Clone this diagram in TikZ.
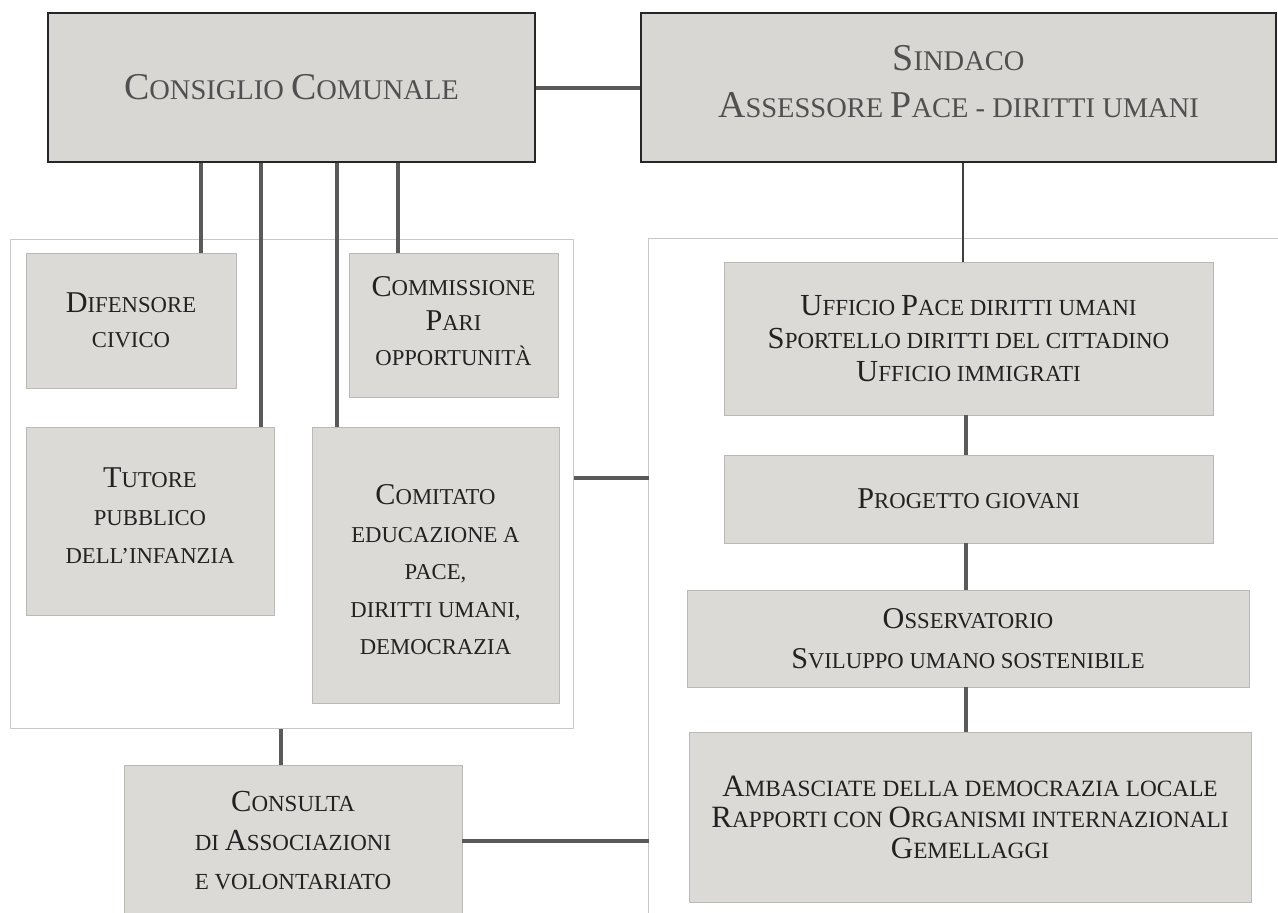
\documentclass[tikz,border=0pt]{standalone}
\usepackage{fontspec}
\usepackage{graphicx}
\setmainfont{Liberation Serif}
\newcommand\B[1]{\scalebox{1.33}{#1}}
\definecolor{boxfill}{HTML}{DCDAD6}
\definecolor{topfill}{HTML}{D9D7D3}
\definecolor{linecol}{HTML}{5A5A5A}
\definecolor{framecol}{HTML}{C8C8C8}
\definecolor{toptext}{HTML}{505050}
\definecolor{intext}{HTML}{222222}
\tikzset{
  topbox/.style={draw=black!85, line width=1.6pt, fill=topfill, inner sep=0pt, align=center,
    text=toptext, font=\fontsize{28.5}{47}\selectfont},
  inbox/.style={fill=boxfill, draw=boxfill!85!black, line width=0.5pt, inner sep=0pt, align=center,
    text=intext, font=\fontsize{22.7}{35}\selectfont},
  conn/.style={draw=linecol, line width=4pt},
  thinconn/.style={draw=black!75, line width=2.5pt},
  frame/.style={draw=framecol, line width=1pt}
}
\begin{document}
\begin{tikzpicture}[x=1pt,y=-1pt]
\useasboundingbox (0,0) rectangle (1278,913);
% containers
\node[frame, minimum width=563pt, minimum height=489pt, inner sep=0pt] (lc) at (291.5,483.5) {};
\node[minimum width=640pt, minimum height=690pt, inner sep=0pt] (rc) at (969,584) {};
\draw[frame] (rc.south west) -- (rc.north west) -- (rc.north east);
% top boxes
\node[topbox, minimum width=487pt, minimum height=149pt] (cc) at (291.5,87.5)
  {\B{C}ONSIGLIO \B{C}OMUNALE};
\node[topbox, minimum width=635pt, minimum height=149pt, text depth=12pt] (sind) at (958.5,87.5)
  {\B{S}INDACO\\ \B{A}SSESSORE \B{P}ACE - DIRITTI UMANI};
% left boxes
\node[inbox, minimum width=210pt, minimum height=135pt] (dif) at (131,320.5)
  {\B{D}IFENSORE\\CIVICO};
\node[inbox, minimum width=209pt, minimum height=144pt, text depth=8pt] (comm) at (453.5,325)
  {\B{C}OMMISSIONE\\\B{P}ARI\\OPPORTUNITÀ};
\node[inbox, minimum width=248pt, minimum height=188pt, text depth=10pt, font=\fontsize{22.7}{38}\selectfont] (tut) at (150,521)
  {\B{T}UTORE\\PUBBLICO\\DELL'INFANZIA};
\node[inbox, minimum width=247pt, minimum height=276pt, font=\fontsize{22.7}{37.5}\selectfont] (com) at (435.5,565)
  {\rule{0pt}{30pt}\B{C}OMITATO\\EDUCAZIONE A\\PACE,\\DIRITTI UMANI,\\DEMOCRAZIA};
\node[inbox, minimum width=338pt, minimum height=152pt, font=\fontsize{23}{39}\selectfont] (cons) at (293,841)
  {\B{C}ONSULTA\\DI \B{A}SSOCIAZIONI\\E VOLONTARIATO};
% right boxes
\node[inbox, minimum width=489pt, minimum height=153pt, font=\fontsize{23}{33}\selectfont] (uff) at (968.5,338.5)
  {\B{U}FFICIO \B{P}ACE DIRITTI UMANI\\\B{S}PORTELLO DIRITTI DEL CITTADINO\\\B{U}FFICIO IMMIGRATI};
\node[inbox, minimum width=489pt, minimum height=88pt] (prog) at (968.5,499)
  {\B{P}ROGETTO GIOVANI};
\node[inbox, minimum width=562pt, minimum height=97pt, font=\fontsize{22.7}{40}\selectfont] (oss) at (968,638.5)
  {\B{O}SSERVATORIO\\\B{S}VILUPPO UMANO SOSTENIBILE};
\node[inbox, minimum width=562pt, minimum height=170pt, font=\fontsize{23.3}{31}\selectfont] (amb) at (970,817)
  {\B{A}MBASCIATE DELLA DEMOCRAZIA LOCALE\\\B{R}APPORTI CON \B{O}RGANISMI INTERNAZIONALI\\\B{G}EMELLAGGI};
% connector guide coordinates
\coordinate (x1) at (201,0);
\coordinate (x2) at (261,0);
\coordinate (x3) at (337,0);
\coordinate (x4) at (398,0);
\coordinate (xs) at (963,0);
\coordinate (xr) at (966,0);
\coordinate (xc) at (281,0);
\coordinate (ymid) at (0,478);
% connectors
\draw[conn] (cc.east) -- (sind.west);
\draw[conn] (cc.south -| x1) -- (dif.north -| x1);
\draw[conn] (cc.south -| x2) -- (tut.north -| x2);
\draw[conn] (cc.south -| x3) -- (com.north -| x3);
\draw[conn] (cc.south -| x4) -- (comm.north -| x4);
\draw[thinconn] (sind.south -| xs) -- (uff.north -| xs);
\draw[conn] (uff.south -| xr) -- (prog.north -| xr);
\draw[conn] (prog.south -| xr) -- (oss.north -| xr);
\draw[conn] (oss.south -| xr) -- (amb.north -| xr);
\draw[conn] (lc.east |- ymid) -- (rc.west |- ymid);
\draw[conn] (lc.south -| xc) -- (cons.north -| xc);
\draw[conn] (cons.east) -- (cons.east -| rc.west);
\end{tikzpicture}
\end{document}
